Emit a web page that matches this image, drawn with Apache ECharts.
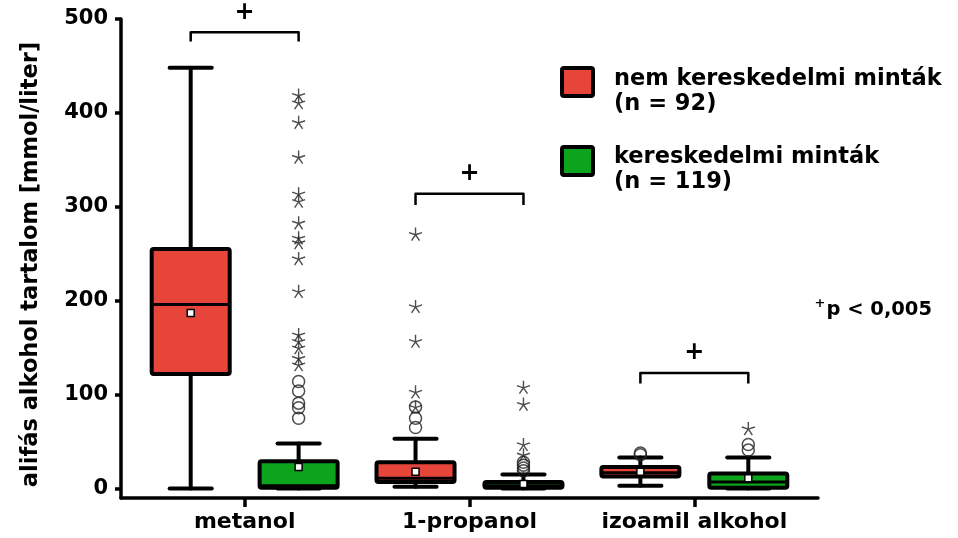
<!DOCTYPE html>
<html>
<head>
<meta charset="utf-8">
<script src="https://cdn.jsdelivr.net/npm/echarts@6/dist/echarts.min.js"></script>
<style>
html,body{margin:0;padding:0;background:#fff;}
#chart{width:958px;height:538px;}
</style>
</head>
<body>
<div id="chart"></div>
<script>
// ---------- data ----------
const categories = ['metanol', '1-propanol', 'izoamil alkohol'];
const seriesNames = ['nem kereskedelmi minták', 'kereskedelmi minták'];
const sampleCounts = [92, 119];
// per category: [min, Q1, median, Q3, max, mean]
const redStats = [[0, 122, 196, 255, 448, 187], [2, 7, 11, 28, 53, 18], [3, 13, 17, 23, 33, 18]];
const greenStats = [[0, 1, 3, 29, 48, 23], [0, 1, 3, 7, 15, 5], [0, 1, 7, 16, 33, 11]];
const redStars = [[], [271, 194, 157, 103, 87], []];
const redCircles = [[], [87, 75, 65], [38, 36]];
const greenStars = [[419, 411, 390, 353, 314, 306, 283, 267, 262, 245, 210, 164, 157, 150, 139, 132], [108, 90, 47, 36], [64]];
const greenCircles = [[114, 104, 91, 86, 75], [28, 25, 22, 19], [47, 41]];
const yTicks = [0, 100, 200, 300, 400, 500];
// significance brackets per category: [top, end, plus sign]
const brackets = [[486, 476, 507], [314, 302, 335], [123, 112, 145]];
const pLabel = 'p < 0,005';

// ---------- style ----------
const RED = '#E8453A';
const GREEN = '#0BA41C';
const FONT = 'DejaVu Sans';
const OFF = 0.24;     // half distance between paired boxes (category units)
const BOXW = 0.347;   // box width (category units)

const chart = echarts.init(document.getElementById('chart'));

function boxRender(side, color) {
  return function (params, api) {
    const i = api.value(0);
    const x = api.coord([i + side * OFF, 0])[0];
    const y = v => api.coord([0, v])[1];
    const w = api.size([BOXW, 0])[0];
    const yMin = y(api.value(1)), yQ1 = y(api.value(2)), yMed = y(api.value(3)),
          yQ3 = y(api.value(4)), yMax = y(api.value(5)), yMean = y(api.value(6));
    const capW = w * 0.54;
    const ls = { stroke: '#000', lineWidth: 4, lineCap: 'round' };
    return {
      type: 'group',
      children: [
        { type: 'line', shape: { x1: x, y1: yMax, x2: x, y2: yQ3 }, style: ls },
        { type: 'line', shape: { x1: x, y1: yQ1, x2: x, y2: yMin }, style: ls },
        { type: 'line', shape: { x1: x - capW / 2, y1: yMax, x2: x + capW / 2, y2: yMax }, style: ls },
        { type: 'line', shape: { x1: x - capW / 2, y1: yMin, x2: x + capW / 2, y2: yMin }, style: ls },
        { type: 'rect', shape: { x: x - w / 2, y: yQ3, width: w, height: yQ1 - yQ3, r: 2 },
          style: { fill: color, stroke: '#000', lineWidth: 4 } },
        { type: 'line', shape: { x1: x - w / 2, y1: yMed, x2: x + w / 2, y2: yMed }, style: { stroke: '#000', lineWidth: 3 } },
        { type: 'rect', shape: { x: x - 3.5, y: yMean - 3.5, width: 7, height: 7 },
          style: { fill: '#fff', stroke: '#000', lineWidth: 1.5 } }
      ]
    };
  };
}

function bracketRender(params, api) {
  const i = api.value(0);
  const xl = api.coord([i - OFF, 0])[0];
  const xr = api.coord([i + OFF, 0])[0];
  const xc = api.coord([i, 0])[0];
  const yTop = api.coord([0, api.value(1)])[1];
  const yEnd = api.coord([0, api.value(2)])[1];
  const yPlus = api.coord([0, api.value(3)])[1];
  return {
    type: 'group',
    children: [
      { type: 'polyline', shape: { points: [[xl, yEnd], [xl, yTop], [xr, yTop], [xr, yEnd]] },
        style: { stroke: '#000', lineWidth: 2.5, fill: null, lineJoin: 'round' } },
      { type: 'text', x: xc, y: yPlus,
        style: { text: '+', fontFamily: FONT, fontWeight: 'bold', fontSize: 24, fill: '#000',
                 align: 'center', verticalAlign: 'middle' } }
    ]
  };
}

function pts(arrs, side) {
  const out = [];
  arrs.forEach((vals, i) => vals.forEach(v => out.push([i + side * OFF, v])));
  return out;
}

const STAR = 'path://M0,-10L0,0M0,0L9.51,-3.09M0,0L5.88,8.09M0,0L-5.88,8.09M0,0L-9.51,-3.09';

const option = {
  backgroundColor: '#fff',
  animation: false,
  grid: { left: 121, right: 140, top: 19, bottom: 40 },
  xAxis: {
    type: 'value', min: -0.55, max: 2.55,
    splitLine: { show: false },
    axisLine: { show: true, onZero: false, lineStyle: { color: '#000', width: 3.5 } },
    axisTick: { show: true, customValues: [0, 1, 2], length: 9, lineStyle: { color: '#000', width: 3.5 } },
    axisLabel: {
      customValues: [0, 1, 2], formatter: v => categories[Math.round(v)],
      fontFamily: FONT, fontWeight: 'bold', fontSize: 22, color: '#000', margin: 13
    }
  },
  yAxis: {
    type: 'value', min: -10, max: 500,
    name: 'alifás alkohol tartalom [mmol/liter]', nameLocation: 'middle', nameGap: 78,
    nameTextStyle: { fontFamily: FONT, fontWeight: 'bold', fontSize: 22.5, color: '#000', padding: [0, 0, 0, -12] },
    splitLine: { show: false },
    axisLine: { show: true, onZero: false, lineStyle: { color: '#000', width: 3.5 } },
    axisTick: { show: true, customValues: yTicks, length: 6, lineStyle: { color: '#000', width: 3.5 } },
    axisLabel: {
      customValues: yTicks, fontFamily: FONT, fontWeight: 'bold', fontSize: 21, color: '#000', margin: 13
    }
  },
  series: [
    { type: 'custom', name: seriesNames[0], renderItem: boxRender(-1, RED),
      encode: { x: 0, y: [1, 2, 3, 4, 5, 6] },
      data: redStats.map((s, i) => [i, ...s]), z: 2 },
    { type: 'custom', name: seriesNames[1], renderItem: boxRender(1, GREEN),
      encode: { x: 0, y: [1, 2, 3, 4, 5, 6] },
      data: greenStats.map((s, i) => [i, ...s]), z: 2 },
    { type: 'scatter', symbol: 'circle', symbolSize: 12, z: 3,
      itemStyle: { color: 'rgba(255,255,255,0)', borderColor: '#222', borderWidth: 1.5 },
      data: pts(redCircles, -1).concat(pts(greenCircles, 1)) },
    { type: 'scatter', symbol: STAR, symbolSize: 13, z: 3,
      itemStyle: { color: 'rgba(255,255,255,0)', borderColor: '#222', borderWidth: 1.4 },
      data: pts(redStars, -1).concat(pts(greenStars, 1)) },
    { type: 'custom', renderItem: bracketRender, clip: false,
      encode: { x: 0, y: [1, 2, 3] },
      data: brackets.map((b, i) => [i, ...b]), z: 4 }
  ],
  graphic: [
    { type: 'rect', left: 560, top: 66, shape: { width: 31, height: 28, r: 2 },
      style: { fill: RED, stroke: '#000', lineWidth: 4 } },
    { type: 'text', left: 614, top: 67,
      style: { text: seriesNames[0] + '\n(n = ' + sampleCounts[0] + ')', fontFamily: FONT, fontWeight: 'bold',
               fontSize: 22.5, lineHeight: 25, fill: '#000' } },
    { type: 'rect', left: 560, top: 145, shape: { width: 31, height: 28, r: 2 },
      style: { fill: GREEN, stroke: '#000', lineWidth: 4 } },
    { type: 'text', left: 614, top: 145,
      style: { text: seriesNames[1] + '\n(n = ' + sampleCounts[1] + ')', fontFamily: FONT, fontWeight: 'bold',
               fontSize: 22.5, lineHeight: 25, fill: '#000' } },
    { type: 'text', right: 26, top: 297,
      style: { text: '{s|+}{n|' + pLabel + '}', fill: '#000',
               rich: {
                 s: { fontFamily: FONT, fontWeight: 'bold', fontSize: 13, padding: [0, 1, 12, 0] },
                 n: { fontFamily: FONT, fontWeight: 'bold', fontSize: 19.5 }
               } } }
  ]
};
chart.setOption(option);
</script>
</body>
</html>
